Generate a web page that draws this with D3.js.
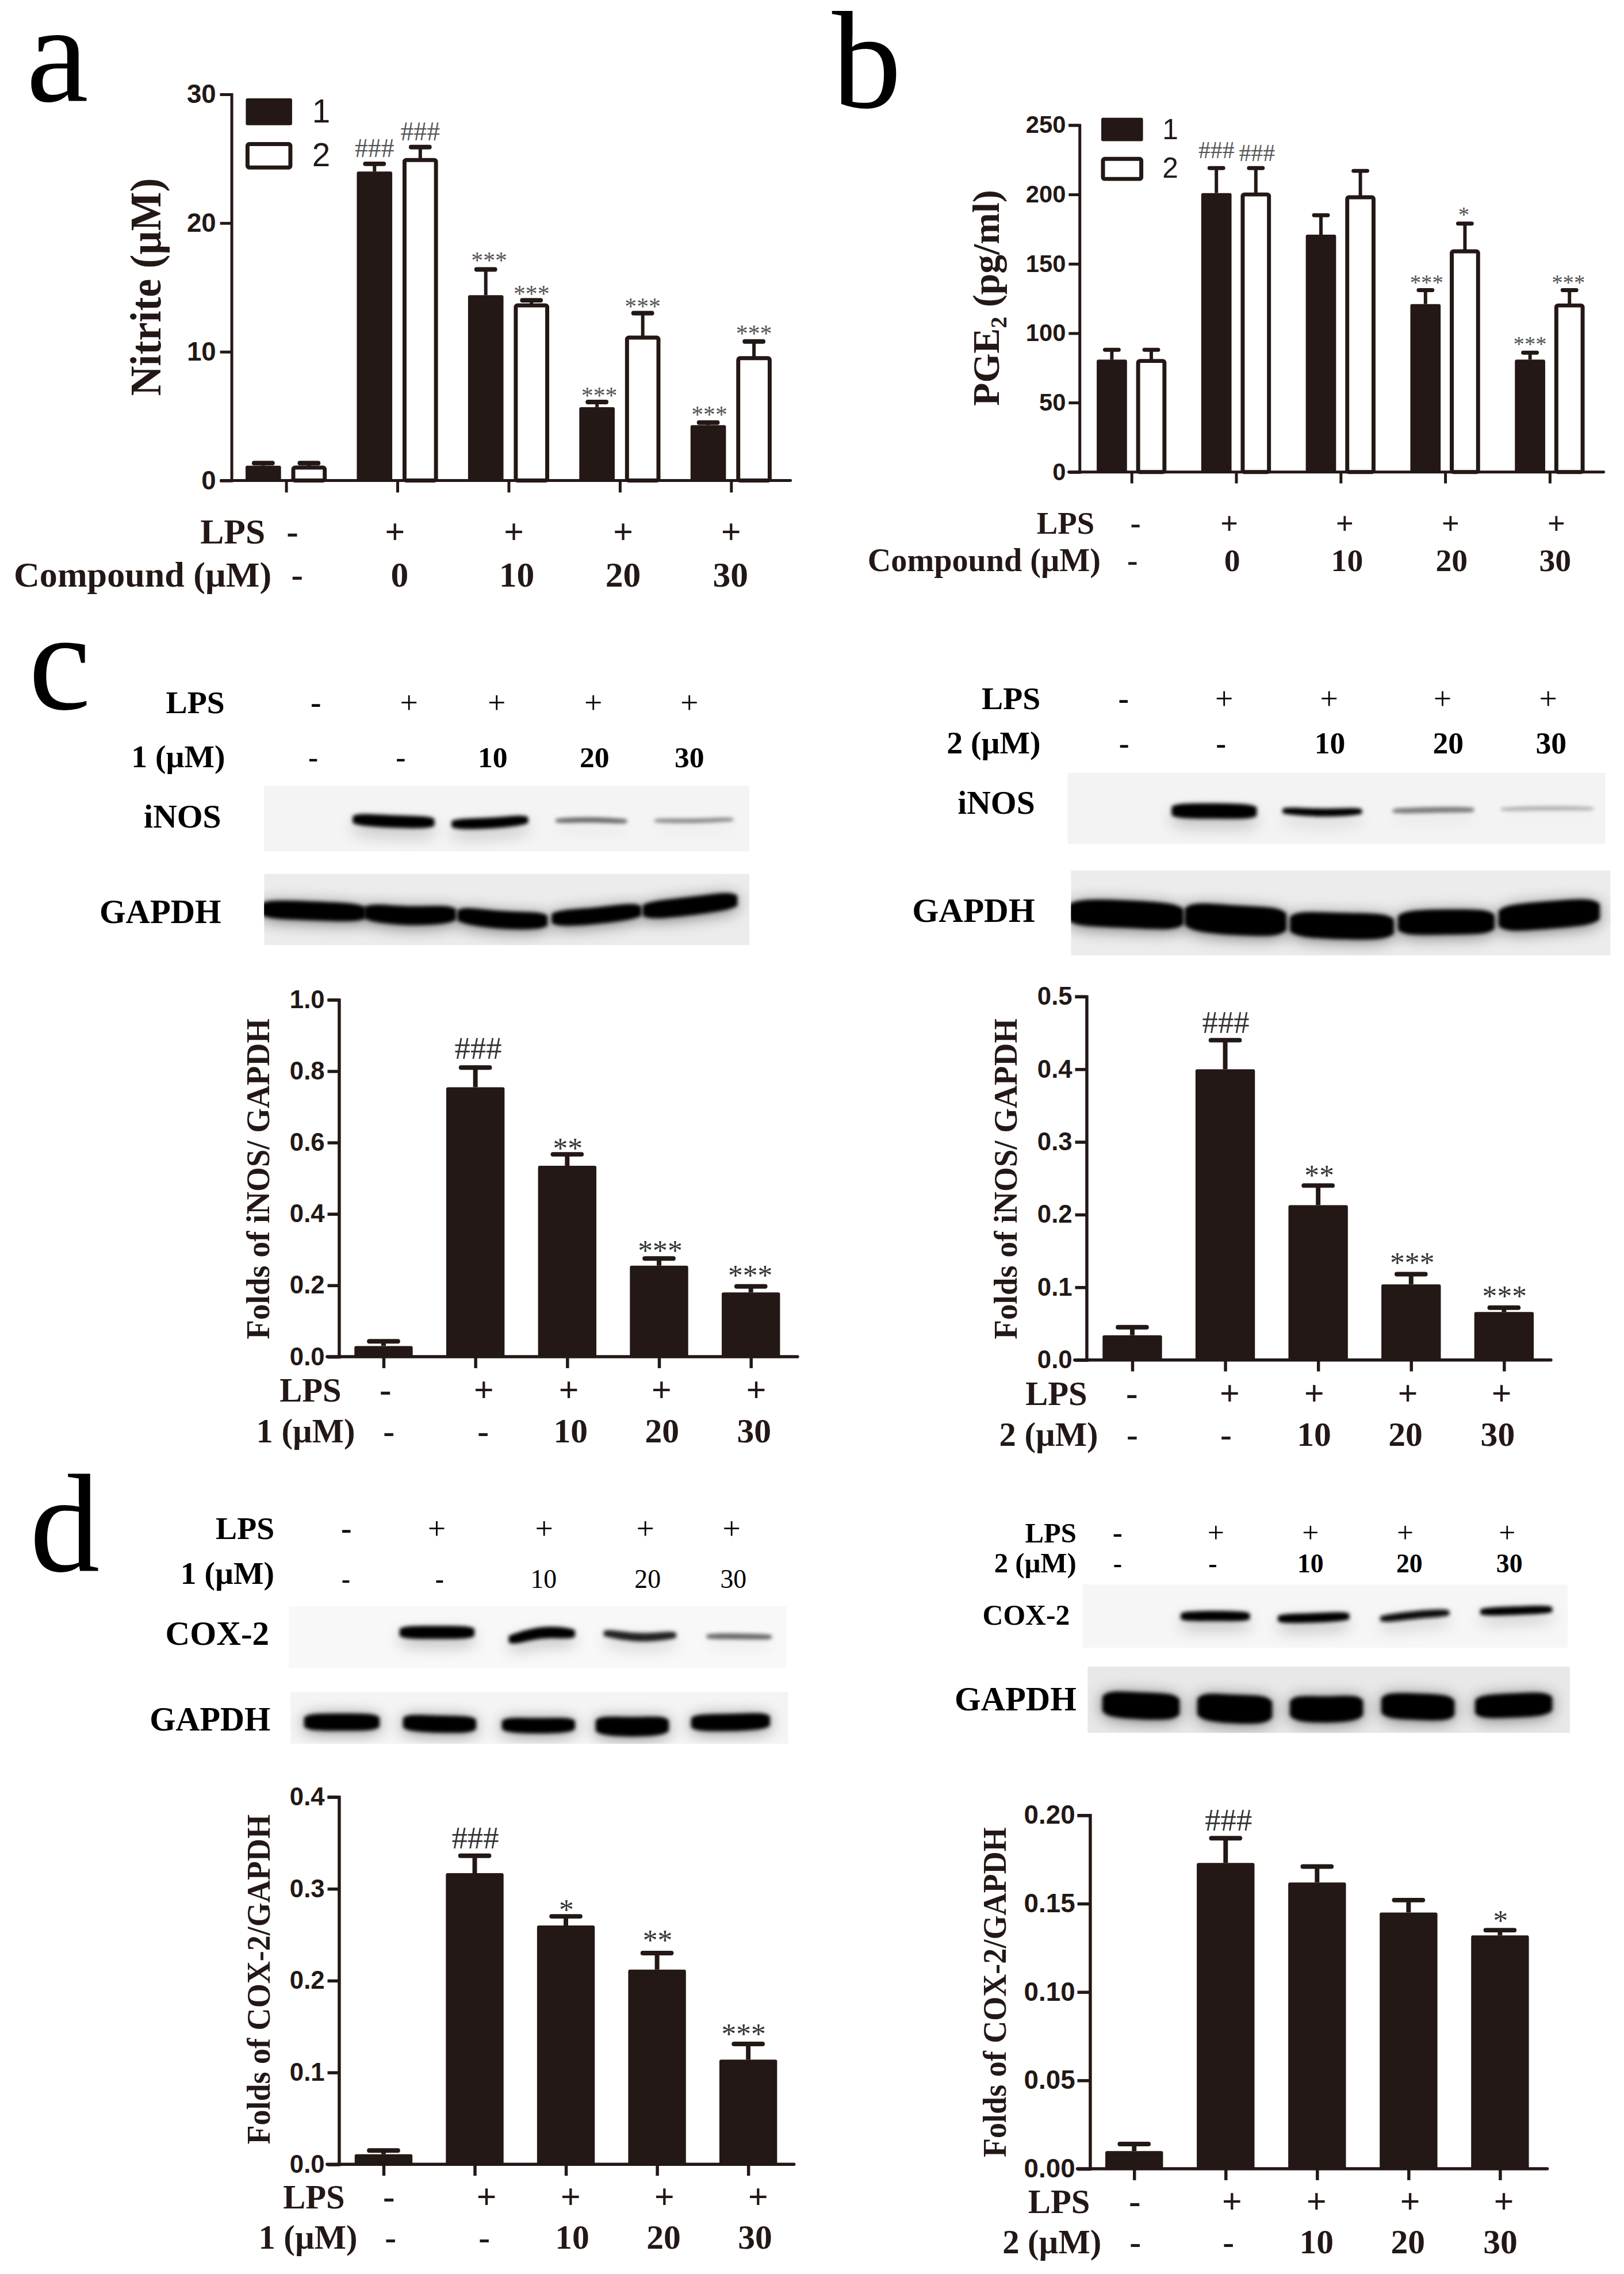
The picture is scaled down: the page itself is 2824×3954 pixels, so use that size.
<!DOCTYPE html>
<html>
<head>
<meta charset="utf-8">
<style>
  body { margin: 0; background: #fff; }
  svg { display: block; }
</style>
<script src="https://cdnjs.cloudflare.com/ajax/libs/d3/7.8.5/d3.min.js"></script>
</head>
<body>
<div id="figure"></div>
<script>
// values
var groups = ["control", "LPS", "LPS+10", "LPS+20", "LPS+30"];

var lpsRow = ["-", "+", "+", "+", "+"];
var compoundRow = ["-", "0", "10", "20", "30"];
var doseRow = ["-", "-", "10", "20", "30"];

var nitrite1 = [1.15, 24.0, 14.4, 5.7, 4.3];
var nitrite1Top = [1.35, 24.6, 16.4, 6.1, 4.5];
var nitrite1Sig = ["", "###", "***", "***", "***"];
var nitrite2 = [1.0, 24.9, 13.6, 11.1, 9.5];
var nitrite2Top = [1.35, 25.9, 14.0, 13.0, 10.8];
var nitrite2Sig = ["", "###", "***", "***", "***"];
var nitriteTicks = [0, 10, 20, 30];

var pge1 = [81, 201, 171, 121, 81];
var pge1Top = [88, 219, 185, 131, 86];
var pge1Sig = ["", "###", "", "***", "***"];
var pge2 = [80, 200, 198, 159, 120];
var pge2Top = [88, 219, 217, 179, 131];
var pge2Sig = ["", "###", "", "*", "***"];
var pgeTicks = [0, 50, 100, 150, 200, 250];

var inos1 = [0.03, 0.755, 0.535, 0.255, 0.18];
var inos1Top = [0.043, 0.81, 0.567, 0.275, 0.197];
var inos1Sig = ["", "###", "**", "***", "***"];
var inos1Ticks = [0, 0.2, 0.4, 0.6, 0.8, 1.0];

var inos2 = [0.034, 0.40, 0.213, 0.104, 0.066];
var inos2Top = [0.045, 0.44, 0.24, 0.118, 0.072];
var inos2Sig = ["", "###", "**", "***", "***"];
var inos2Ticks = [0, 0.1, 0.2, 0.3, 0.4, 0.5];

var cox1 = [0.011, 0.317, 0.26, 0.212, 0.114];
var cox1Top = [0.015, 0.336, 0.27, 0.23, 0.131];
var cox1Sig = ["", "###", "*", "**", "***"];
var cox1Ticks = [0, 0.1, 0.2, 0.3, 0.4];

var cox2 = [0.010, 0.173, 0.162, 0.145, 0.132];
var cox2Top = [0.014, 0.187, 0.171, 0.152, 0.135];
var cox2Sig = ["", "###", "", "", "*"];
var cox2Ticks = [0, 0.05, 0.10, 0.15, 0.20];

var ink = "#231815";
var serif = "'Liberation Serif', 'Times New Roman', serif";
var sans = "'Liberation Sans', Arial, sans-serif";

var root = d3.select("#figure").append("svg")
    .attr("width", 2824)
    .attr("height", 3954)
    .attr("viewBox", "0 0 2824 3954");

var defs = root.append("defs");
[3, 14].forEach(function(s) {
  defs.append("filter")
      .attr("id", "blur" + s)
      .attr("x", "-30%").attr("y", "-150%")
      .attr("width", "160%").attr("height", "400%")
    .append("feGaussianBlur")
      .attr("stdDeviation", s);
});

// each region of the figure was measured from its own origin
var svg = root;
var regionScale = 0.994;
function region(ox, oy) {
  svg = root.append("g")
      .attr("transform", "translate(" + ox + "," + oy + ") scale(" + regionScale + ") translate(" + (-ox) + "," + (-oy) + ")");
}

function addText(x, y, str, size, opts) {
  opts = opts || {};
  return svg.append("text")
      .attr("x", x)
      .attr("y", y)
      .attr("font-family", opts.family || serif)
      .attr("font-size", size)
      .attr("font-weight", opts.weight || "bold")
      .attr("fill", opts.color || ink)
      .attr("text-anchor", opts.anchor || "start")
      .text(str);
}

// LPS / dose rows under a chart or over a blot
function addRow(r) {
  addText(r.end, r.y, r.label, r.size, {anchor: "end", color: r.color});
  r.texts.forEach(function(t, i) {
    var isPlus = t === "+";
    addText(r.xs[i], r.vy || r.y, t, r.valueSize || r.size, {
      anchor: "middle",
      color: r.color,
      weight: (isPlus && r.thinPlus) || (r.thin && t !== "-") ? "normal" : "bold"
    });
  });
}

function addYLabel(x, y, size, parts, len) {
  var t = svg.append("text")
      .attr("transform", "translate(" + x + "," + y + ") rotate(-90)")
      .attr("text-anchor", "middle")
      .attr("font-family", serif)
      .attr("font-size", size)
      .attr("font-weight", "bold")
      .attr("fill", ink);
  if (len) t.attr("textLength", len).attr("lengthAdjust", "spacingAndGlyphs");
  parts.forEach(function(p) {
    var s = t.append("tspan").text(p.text);
    if (p.sub) s.attr("font-size", size * 0.62).attr("dy", size * 0.2);
    if (p.back) s.attr("dy", -size * 0.2);
  });
}

function drawChart(c) {
  var x = d3.scalePoint().domain(groups).range(c.xRange);
  var y = d3.scaleLinear().domain([0, c.yMax]).range([c.y0, c.yTop]);

  c.series.forEach(function(s) {
    var g = svg.append("g");

    // error bars first, the bar sits on top of them
    g.selectAll("line.stem")
        .data(s.values)
      .enter().append("line")
        .attr("class", "stem")
        .attr("x1", function(d, i) { return x(groups[i]) + s.offset; })
        .attr("x2", function(d, i) { return x(groups[i]) + s.offset; })
        .attr("y1", function(d) { return y(d); })
        .attr("y2", function(d, i) { return y(s.tops[i]); })
        .attr("stroke", ink)
        .attr("stroke-width", c.errWidth);

    g.selectAll("line.cap")
        .data(s.tops)
      .enter().append("line")
        .attr("class", "cap")
        .attr("x1", function(d, i) { return x(groups[i]) + s.offset - c.capHalf; })
        .attr("x2", function(d, i) { return x(groups[i]) + s.offset + c.capHalf; })
        .attr("y1", function(d) { return y(d); })
        .attr("y2", function(d) { return y(d); })
        .attr("stroke", ink)
        .attr("stroke-width", c.capWidth)
        .attr("stroke-linecap", "round");

    // a hollow bar's stroke is centred on its value
    var inset = s.hollow ? c.barStroke / 2 : 0;
    g.selectAll("rect")
        .data(s.values)
      .enter().append("rect")
        .attr("x", function(d, i) { return x(groups[i]) + s.offset - c.barWidth / 2 + inset; })
        .attr("y", function(d) { return y(d); })
        .attr("width", c.barWidth - inset * 2)
        .attr("height", function(d) { return c.y0 - y(d); })
        .attr("rx", 3)
        .attr("fill", s.hollow ? "#fff" : ink)
        .attr("stroke", s.hollow ? ink : "none")
        .attr("stroke-width", s.hollow ? c.barStroke : 0);

    // significance marks hang off the cap of their error bar
    s.sig.forEach(function(m, i) {
      if (!m) return;
      var shift = s.sigShift[i];
      var isHash = m.charAt(0) === "#";
      var size = isHash ? c.hashSize : c.starSize;
      var base = y(s.tops[i]) - shift[1] + (isHash ? 0 : size * 0.47);
      addText(x(groups[i]) + s.offset + shift[0], base, m, size, {
        anchor: "middle", weight: "normal", color: c.sigColor
      });
    });
  });

  var yAxis = d3.axisLeft(y)
      .tickValues(c.ticks)
      .tickFormat(d3.format(c.format))
      .tickSizeOuter(0)
      .tickSize(c.tickLen)
      .tickPadding(c.tickPad);

  var gy = svg.append("g")
      .attr("transform", "translate(" + c.axisX + ",0)")
      .call(yAxis);

  var xAxis = d3.axisBottom(x).tickSize(c.xTickLen).tickFormat("");
  var gx = svg.append("g")
      .attr("transform", "translate(0," + c.y0 + ")")
      .call(xAxis);
  gx.select(".domain").remove();

  svg.append("line")
      .attr("x1", c.xLine[0]).attr("x2", c.xLine[1])
      .attr("y1", c.y0).attr("y2", c.y0)
      .attr("stroke", ink)
      .attr("stroke-width", c.axisWidth)
      .attr("stroke-linecap", "round");

  [gx, gy].forEach(function(g) {
    g.selectAll(".domain, .tick line")
        .attr("stroke", ink)
        .attr("stroke-width", c.axisWidth);
    g.selectAll("text")
        .attr("font-family", sans)
        .attr("font-weight", "bold")
        .attr("font-size", c.tickSize)
        .attr("fill", ink);
  });
}

// a western blot strip: pale background, blurred dark bands
var bandArea = d3.area()
    .x(function(d) { return d.x; })
    .y0(function(d) { return d.y - d.t / 2; })
    .y1(function(d) { return d.y + d.t / 2; })
    .curve(d3.curveBasis);

var blotCount = 0;
function drawBlot(b) {
  var id = "blot" + (blotCount++);
  defs.append("clipPath").attr("id", id)
    .append("rect")
      .attr("x", b.x0).attr("y", b.y0)
      .attr("width", b.x1 - b.x0).attr("height", b.y1 - b.y0);

  var g = svg.append("g").attr("clip-path", "url(#" + id + ")");
  g.append("rect")
      .attr("x", b.x0).attr("y", b.y0)
      .attr("width", b.x1 - b.x0).attr("height", b.y1 - b.y0)
      .attr("fill", b.bg);

  b.bands.forEach(function(k) {
    var w = k[1] - k[0], t = k[5];
    var pts = [
      {x: k[0], y: k[2], t: t * 0.55},
      {x: k[0] + w * 0.08, y: k[2], t: t},
      {x: k[0] + w * 0.5, y: k[3], t: t},
      {x: k[1] - w * 0.08, y: k[4], t: t},
      {x: k[1], y: k[4], t: t * 0.55}
    ];
    g.append("path")
        .attr("d", bandArea(pts))
        .attr("transform", "translate(0," + b.smear + ")")
        .attr("fill", "#000")
        .attr("opacity", b.halo * k[7])
        .attr("filter", "url(#blur14)");
    g.append("path")
        .attr("d", bandArea(pts))
        .attr("fill", k[6])
        .attr("filter", "url(#blur3)");
  });
}

// ---- a
region(0, 0);
addText(46, 177, "a", 245, {weight: "normal", color: "#000"});
drawChart({
  xRange: [500.6, 1279], yMax: 30, y0: 840.5, yTop: 165, axisX: 405, xLine: [387, 1383],
  ticks: nitriteTicks, format: "d", tickLen: 20, tickPad: 7, tickSize: 46, xTickLen: 21,
  axisWidth: 5, barWidth: 62, barStroke: 7, errWidth: 6, capWidth: 8, capHalf: 16,
  hashSize: 46, starSize: 42, sigColor: "#555",
  series: [
    {values: nitrite1, tops: nitrite1Top, sig: nitrite1Sig, offset: -40, hollow: false,
     sigShift: [[0,0],[0,12],[6,21],[4,17],[2,19]]},
    {values: nitrite2, tops: nitrite2Top, sig: nitrite2Sig, offset: 40, hollow: true,
     sigShift: [[0,0],[0,12],[0,17],[0,17],[0,19]]}
  ]
});
addYLabel(281, 502, 76, [{text: "Nitrite (µM)"}], 381);
svg.append("rect").attr("x", 430).attr("y", 172).attr("width", 81).attr("height", 47).attr("rx", 3).attr("fill", ink);
svg.append("rect").attr("x", 433).attr("y", 252).attr("width", 75).attr("height", 41).attr("rx", 3)
    .attr("fill", "#fff").attr("stroke", ink).attr("stroke-width", 7);
addText(546, 214, "1", 57, {family: sans, weight: "normal"});
addText(546, 291, "2", 57, {family: sans, weight: "normal"});
addRow({label: "LPS", end: 464, y: 951, size: 62, xs: [511.6, 691, 899, 1090, 1279], texts: lpsRow});
addRow({label: "Compound (µM)", end: 475, y: 1026, size: 62.5, valueSize: 62, xs: [520, 699, 904, 1090, 1278], texts: compoundRow});

// ---- b
region(1420, 0);
addText(1447, 188, "b", 243, {weight: "normal", color: "#000"});
drawChart({
  xRange: [1971, 2702.6], yMax: 250, y0: 825.6, yTop: 218.8, axisX: 1880, xLine: [1861, 2797],
  ticks: pgeTicks, format: "d", tickLen: 19, tickPad: 5, tickSize: 42, xTickLen: 20,
  axisWidth: 5, barWidth: 53, barStroke: 7, errWidth: 6, capWidth: 7, capHalf: 12,
  hashSize: 42, starSize: 39, sigColor: "#555",
  series: [
    {values: pge1, tops: pge1Top, sig: pge1Sig, offset: -34.5, hollow: false,
     sigShift: [[0,0],[0,17],[0,0],[2,18.6],[0,20.5]]},
    {values: pge2, tops: pge2Top, sig: pge2Sig, offset: 34.5, hollow: true,
     sigShift: [[0,0],[2,12],[0,0],[-2,21],[-2,18.6]]}
  ]
});
addYLabel(1739, 521, 66, [
  {text: "PGE"}, {text: "2", sub: true}, {text: " (pg/ml)", back: true}
]);
svg.append("rect").attr("x", 1918).attr("y", 206).attr("width", 73).attr("height", 41).attr("rx", 3).attr("fill", ink);
svg.append("rect").attr("x", 1921).attr("y", 278).attr("width", 67).attr("height", 35).attr("rx", 3)
    .attr("fill", "#fff").attr("stroke", ink).attr("stroke-width", 7);
addText(2025, 243, "1", 50, {family: sans, weight: "normal"});
addText(2025, 311, "2", 50, {family: sans, weight: "normal"});
addRow({label: "LPS", end: 1906, y: 934, size: 55, xs: [1978, 2142, 2344, 2529, 2714], texts: lpsRow});
addRow({label: "Compound (µM)", end: 1917, y: 999, size: 56.5, valueSize: 56, xs: [1972.6, 2147, 2348, 2531, 2712], texts: compoundRow});

// ---- c, compound 1
region(0, 1080);
addText(50, 1234, "c", 245, {weight: "normal", color: "#000"});
addRow({label: "LPS", end: 393, y: 1241, size: 56, thinPlus: true, color: "#000", xs: [552.5, 715.5, 869, 1038, 1206], texts: lpsRow});
addRow({label: "1 (µM)", end: 394, y: 1336, size: 56, valueSize: 52, color: "#000", xs: [548, 701, 862, 1040, 1206], texts: doseRow});
addText(387, 1441, "iNOS", 58, {anchor: "end", color: "#000"});
addText(387, 1608, "GAPDH", 59, {anchor: "end", color: "#000"});
drawBlot({x0: 462, x1: 1311, y0: 1368, y1: 1483, bg: "#f4f4f4", smear: 14, halo: 0.22, bands: [
  [617, 760, 1427, 1431, 1432, 22, "#000", 1],
  [790, 924, 1435, 1434, 1428, 19, "#000", 1],
  [972, 1097, 1429, 1427, 1430, 9, "#666", 0.4],
  [1145, 1283, 1429, 1430, 1427, 8, "#888", 0.3]
]});
drawBlot({x0: 462, x1: 1311, y0: 1522, y1: 1647, bg: "#ececec", smear: 4, halo: 0.5, bands: [
  [455, 640, 1584, 1587, 1590, 33, "#000", 1],
  [637, 798, 1590, 1597, 1593, 33, "#000", 1],
  [800, 958, 1595, 1604, 1604, 31, "#000", 1],
  [965, 1122, 1600, 1596, 1587, 29, "#000", 1],
  [1124, 1290, 1586, 1579, 1569, 32, "#000", 1]
]});

region(380, 1700);
drawChart({
  xRange: [668.7, 1311.3], yMax: 1.0, y0: 2363, yTop: 1738.6, axisX: 590.7, xLine: [570, 1393],
  ticks: inos1Ticks, format: ".1f", tickLen: 20, tickPad: 5, tickSize: 44, xTickLen: 20,
  axisWidth: 5.5, barWidth: 102, barStroke: 0, errWidth: 8, capWidth: 8, capHalf: 25,
  hashSize: 55, starSize: 52, sigColor: "#333",
  series: [
    {values: inos1, tops: inos1Top, sig: inos1Sig, offset: 0, hollow: false,
     sigShift: [[0,0],[5,15],[1,18.5],[2,21.5],[-1,27]]}
  ]
});
addYLabel(469, 2052, 58, [{text: "Folds of iNOS/ GAPDH"}], 561);
addRow({label: "LPS", end: 595, y: 2441.5, size: 59, valueSize: 62, xs: [672, 844, 992.7, 1155, 1320.7], texts: lpsRow});
addRow({label: "1 (µM)", end: 619, y: 2513, size: 59, valueSize: 60, xs: [678, 843, 996, 1156, 1317], texts: doseRow});

// ---- c, compound 2
region(1420, 1080);
addRow({label: "LPS", end: 1811.5, y: 1234, size: 56, thinPlus: true, color: "#000", xs: [1957, 2133, 2316.5, 2515, 2700], texts: lpsRow});
addRow({label: "2 (µM)", end: 1812, y: 1311, size: 56, valueSize: 54, color: "#000", xs: [1958, 2127.5, 2318, 2525, 2705], texts: doseRow});
addText(1802, 1417, "iNOS", 58, {anchor: "end", color: "#000"});
addText(1802, 1606, "GAPDH", 59.5, {anchor: "end", color: "#000"});
drawBlot({x0: 1859, x1: 2800, y0: 1345, y1: 1470, bg: "#f3f3f3", smear: 14, halo: 0.22, bands: [
  [2041, 2190, 1412, 1412, 1413, 27, "#000", 1],
  [2235, 2374, 1412, 1416, 1413, 14, "#000", 0.7],
  [2428, 2570, 1412, 1410, 1410, 10, "#777", 0.35],
  [2617, 2779, 1409, 1407, 1408, 7, "#aaa", 0.2]
]});
drawBlot({x0: 1865, x1: 2809, y0: 1516, y1: 1665, bg: "#ececec", smear: 4, halo: 0.5, bands: [
  [1860, 2062, 1590, 1592, 1597, 48, "#000", 1],
  [2064, 2242, 1597, 1604, 1606, 52, "#000", 1],
  [2248, 2430, 1610, 1614, 1614, 46, "#000", 1],
  [2437, 2606, 1608, 1606, 1606, 44, "#000", 1],
  [2613, 2790, 1600, 1594, 1588, 48, "#000", 1]
]});

region(1680, 1700);
drawChart({
  xRange: [1970.7, 2621], yMax: 0.5, y0: 2368.7, yTop: 1733, axisX: 1890.7, xLine: [1870, 2703],
  ticks: inos2Ticks, format: ".1f", tickLen: 20, tickPad: 5, tickSize: 44, xTickLen: 20,
  axisWidth: 5.5, barWidth: 104, barStroke: 0, errWidth: 8, capWidth: 8, capHalf: 25,
  hashSize: 55, starSize: 52, sigColor: "#333",
  series: [
    {values: inos2, tops: inos2Top, sig: inos2Sig, offset: 0, hollow: false,
     sigShift: [[0,0],[1,13],[2,26],[2,28],[1,28]]}
  ]
});
addYLabel(1769, 2052, 58, [{text: "Folds of iNOS/ GAPDH"}], 561);
addRow({label: "LPS", end: 1892, y: 2448, size: 59, valueSize: 62, xs: [1970, 2141, 2289, 2452.7, 2616.7], texts: lpsRow});
addRow({label: "2 (µM)", end: 1911, y: 2518.6, size: 59, valueSize: 60, xs: [1970.7, 2134.7, 2288.7, 2448.7, 2610], texts: doseRow});

// ---- d, compound 1
region(0, 2560);
addText(52, 2733, "d", 245, {weight: "normal", color: "#000"});
addRow({label: "LPS", end: 480, y: 2677, size: 56, thinPlus: true, color: "#000", xs: [606, 764, 952, 1129, 1280], texts: lpsRow});
addRow({label: "1 (µM)", end: 480, y: 2755, vy: 2762, size: 56, valueSize: 46, thin: true, color: "#000", xs: [605, 769, 951, 1133, 1283], texts: doseRow});
addText(471, 2862, "COX-2", 59.5, {anchor: "end", color: "#000"});
addText(473, 3012, "GAPDH", 58.5, {anchor: "end", color: "#000"});
drawBlot({x0: 505, x1: 1376, y0: 2794, y1: 2902, bg: "#f8f8f8", smear: 12, halo: 0.25, bands: [
  [699, 830, 2840, 2840, 2840, 23, "#000", 1],
  [890, 1006, 2852, 2838, 2842, 20, "#000", 1],
  [1056, 1183, 2842, 2851, 2845, 15, "#222", 0.8],
  [1236, 1350, 2847, 2847, 2848, 10, "#666", 0.4]
]});
drawBlot({x0: 508, x1: 1379, y0: 2944, y1: 3035, bg: "#f4f4f4", smear: 3, halo: 0.45, bands: [
  [532, 664, 2997, 2997, 2997, 30, "#000", 1],
  [705, 833, 2998, 3001, 3001, 30, "#000", 1],
  [878, 1006, 3002, 3004, 3002, 27, "#000", 1],
  [1042, 1170, 3003, 3006, 3003, 34, "#000", 1],
  [1209, 1347, 2998, 2998, 2995, 30, "#000", 1]
]});

region(380, 3080);
drawChart({
  xRange: [668.7, 1306.7], yMax: 0.4, y0: 3767.4, yTop: 3124.8, axisX: 590.7, xLine: [570, 1386.7],
  ticks: cox1Ticks, format: ".1f", tickLen: 20, tickPad: 5, tickSize: 44, xTickLen: 20,
  axisWidth: 5.5, barWidth: 101, barStroke: 0, errWidth: 8, capWidth: 8, capHalf: 25,
  hashSize: 55, starSize: 52, sigColor: "#333",
  series: [
    {values: cox1, tops: cox1Top, sig: cox1Sig, offset: 0, hollow: false,
     sigShift: [[0,0],[1,13],[1,20],[1,30],[-8,26]]}
  ]
});
addYLabel(470, 3444, 58, [{text: "Folds of COX-2/GAPDH"}], 577);
addRow({label: "LPS", end: 601, y: 3844.7, size: 59, valueSize: 62, xs: [678, 849, 996, 1160, 1324], texts: lpsRow});
addRow({label: "1 (µM)", end: 623, y: 3914.7, size: 59, valueSize: 60, xs: [681, 845, 998.7, 1158.7, 1318.7], texts: doseRow});

// ---- d, compound 2
region(1420, 2560);
addRow({label: "LPS", end: 1874.5, y: 2683, size: 49, thinPlus: true, valueSize: 52, color: "#000", xs: [1946.5, 2118.5, 2284, 2449.7, 2628], texts: lpsRow});
addRow({label: "2 (µM)", end: 1874.5, y: 2735, size: 49, valueSize: 46, color: "#000", xs: [1946.5, 2113, 2284, 2457, 2632], texts: doseRow});
addText(1863, 2827, "COX-2", 50, {anchor: "end", color: "#000"});
addText(1874.5, 2977, "GAPDH", 59, {anchor: "end", color: "#000"});
drawBlot({x0: 1886, x1: 2734, y0: 2756, y1: 2867, bg: "#f6f6f6", smear: 12, halo: 0.28, bands: [
  [2057, 2178, 2812, 2811, 2812, 18, "#000", 1],
  [2227, 2352, 2816, 2815, 2812, 17, "#000", 1],
  [2406, 2527, 2816, 2809, 2806, 14, "#111", 0.8],
  [2581, 2707, 2804, 2802, 2800, 15, "#000", 0.8]
]});
drawBlot({x0: 1894, x1: 2738, y0: 2900, y1: 3016, bg: "#e8e8e8", smear: 3, halo: 0.5, bands: [
  [1920, 2055, 2965, 2969, 2970, 47, "#000", 1],
  [2086, 2217, 2970, 2975, 2975, 50, "#000", 1],
  [2248, 2376, 2973, 2976, 2972, 46, "#000", 1],
  [2408, 2536, 2968, 2970, 2972, 46, "#000", 1],
  [2572, 2707, 2970, 2968, 2965, 42, "#000", 1]
]});

region(1680, 3080);
drawChart({
  xRange: [1974, 2614], yMax: 0.2, y0: 3775.2, yTop: 3156.8, axisX: 1896.7, xLine: [1874.7, 2696.7],
  ticks: cox2Ticks, format: ".2f", tickLen: 22, tickPad: 4, tickSize: 46, xTickLen: 20,
  axisWidth: 5.5, barWidth: 101, barStroke: 0, errWidth: 8, capWidth: 8, capHalf: 25,
  hashSize: 55, starSize: 52, sigColor: "#333",
  series: [
    {values: cox2, tops: cox2Top, sig: cox2Sig, offset: 0, hollow: false,
     sigShift: [[0,0],[5,13.4],[0,0],[0,0],[1,25]]}
  ]
});
addYLabel(1749, 3466.5, 58, [{text: "Folds of COX-2/GAPDH"}], 577);
addRow({label: "LPS", end: 1896.7, y: 3853, size: 59, valueSize: 62, xs: [1975, 2145, 2293, 2456.7, 2620.7], texts: lpsRow});
addRow({label: "2 (µM)", end: 1916.7, y: 3923, size: 59, valueSize: 60, xs: [1976, 2139, 2293, 2453, 2614.7], texts: doseRow});
</script>
</body>
</html>
